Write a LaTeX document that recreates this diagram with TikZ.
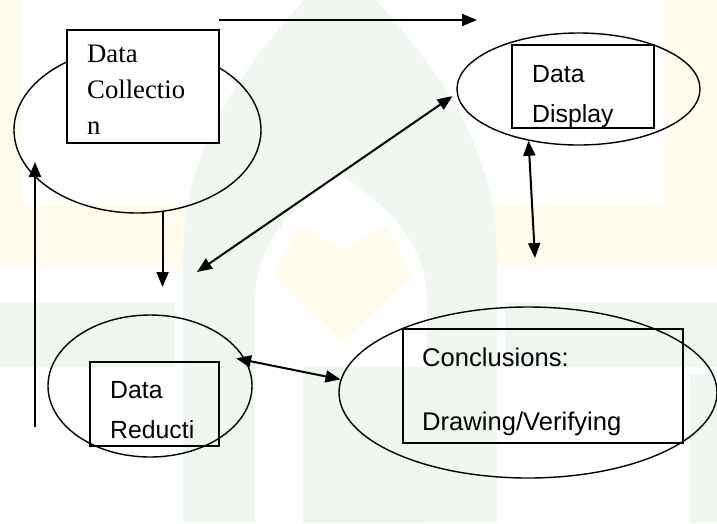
\documentclass[tikz,border=0pt]{standalone}
\usepackage{fontspec}
\setmainfont{Liberation Serif}
\setsansfont{Liberation Sans}
\usetikzlibrary{arrows.meta,shapes.geometric}
\definecolor{MarkGreen}{HTML}{F0F7F0}
\definecolor{MarkYellow}{HTML}{FFFCEE}

\begin{document}
\begin{tikzpicture}[x=1pt,y=-1pt,
  oval/.style={ellipse,draw,line width=1.4pt,inner sep=0pt},
  card/.style={rectangle,draw,line width=1.4pt,inner sep=0pt},
  serif/.style={anchor=base west,align=left,inner sep=0pt,font=\fontsize{26.7}{36}\selectfont},
  sans/.style={anchor=base west,align=left,inner sep=0pt,font=\sffamily\fontsize{24.8}{39.5}\selectfont},
  arr/.style={-{Triangle[length=15pt,width=12pt]},line width=2pt},
  dbl/.style={{Triangle[length=15pt,width=12pt]}-{Triangle[length=15pt,width=12pt]},line width=2pt}]
\useasboundingbox (0,0) rectangle (717,523);
\clip (0,0) rectangle (717,523);
% faint watermark behind the chart
\fill[MarkYellow] (0,0) rectangle (22,268) (0,205) rectangle (190,268);
\fill[MarkYellow] (664,0) rectangle (717,268) (483,205) rectangle (717,268);
\fill[MarkYellow] (272,277) -- (300,225) -- (342,250) -- (387,225) -- (412,277) -- (342,343) -- cycle;
\fill[MarkGreen,even odd rule] (183,523) -- (183,260) .. controls (183,120) and (270,40) .. (340,-40)
  .. controls (410,40) and (497,120) .. (497,260) -- (497,523) -- cycle
  (255,523) -- (255,300) .. controls (255,240) and (300,200) .. (340,175)
  .. controls (380,200) and (427,240) .. (427,300) -- (427,523) -- cycle;
\fill[MarkGreen] (0,303) rectangle (175,367) (505,303) rectangle (717,367);
\fill[MarkGreen] (303,367) rectangle (427,523) (690,375) rectangle (717,523);

% the four stages
\node[oval,minimum width=247pt,minimum height=166pt] (coll) at (137.5,130) {};
\node[oval,minimum width=243pt,minimum height=112pt] (disp) at (578.5,89) {};
\node[oval,minimum width=204pt,minimum height=142pt] (red) at (150,386) {};
\node[oval,minimum width=378pt,minimum height=171pt] (conc) at (528,392.5) {};

\node[card,fill=white,minimum width=152pt,minimum height=113pt] (collbox) at (143,86.5) {};
\node[card,minimum width=142pt,minimum height=83pt] (dispbox) at (583,86.5) {};
\node[card,minimum width=129pt,minimum height=84pt] (redbox) at (154.5,404) {};
\node[card,minimum width=280pt,minimum height=114pt] (concbox) at (543,386) {};

\node[serif] (colltxt) at (87,134) {Data\\Collectio\\n};
\node[sans] (disptxt) at (532,122) {Data\\Display};
\node[sans] (redtxt) at (110,438) {Data\\Reducti};
\node[sans,font=\sffamily\fontsize{25.6}{64}\selectfont] (conctxt) at (422,430) {Conclusions:\\Drawing/Verifying};

% loose arrow ends
\coordinate (topstart) at (219,20);
\coordinate (topend) at (477,20);
\coordinate (diagend) at (197,272);
\coordinate (downend) at (162,287);
\coordinate (dispdown) at (535,258);
\coordinate (upstart) at (35,427);
\coordinate (upend) at (35,162);

\draw[arr] (topstart) -- (topend);
\draw[dbl,shorten >=5pt] (diagend) -- (disp.182);
\draw[arr] (coll.287) -- (coll.287 |- downend);
\draw[dbl] (dispdown) -- (disp.226);
\draw[dbl,shorten <=-10pt] (red.15) -- (conc.176);
\draw[arr] (upstart) -- (upend);
\end{tikzpicture}
\end{document}
